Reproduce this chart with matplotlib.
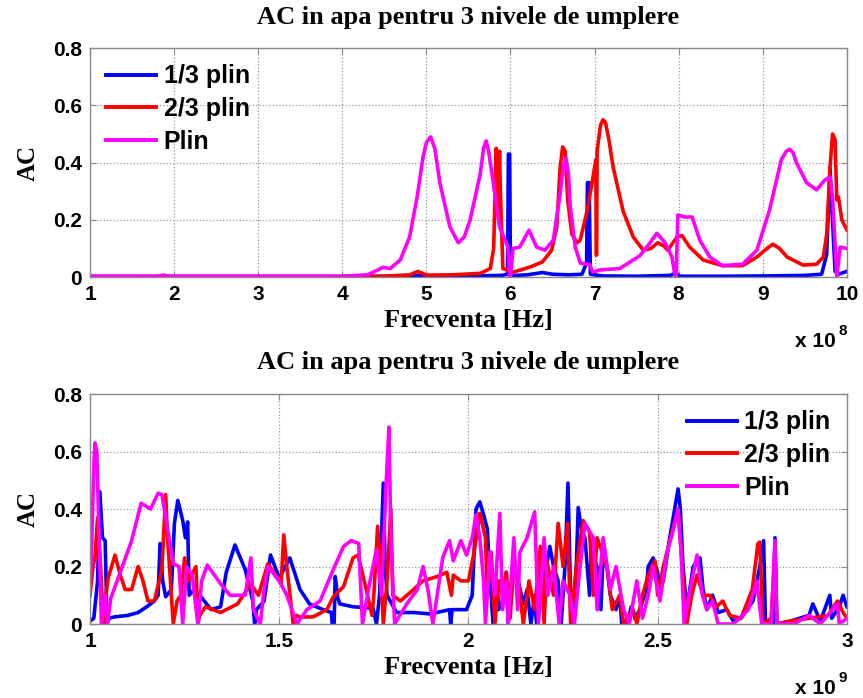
import matplotlib
matplotlib.use('Agg')
import matplotlib.pyplot as plt

# fonturi: Times bold pentru titluri/etichete, Arial bold pentru ticks/legenda
SERIF = ['Liberation Serif', 'DejaVu Serif']
SANS = ['Liberation Sans', 'DejaVu Sans']

labels = ['1/3 plin', '2/3 plin', 'Plin']
colors = ['#0000FF', '#FF0000', '#FF00FF']
title = 'AC in apa pentru 3 nivele de umplere'

# ---------------- grafic sus: 1e8 Hz ----------------
top_xticks = [1, 2, 3, 4, 5, 6, 7, 8, 9, 10]
yticks = [0, 0.2, 0.4, 0.6, 0.8]
ytick_labels = ['0', '0.2', '0.4', '0.6', '0.8']

top_f13 = [1, 2, 3, 4, 4.6, 4.85, 4.95, 5.05, 5.5, 5.9, 5.965, 5.975, 5.99, 6.0,
           6.2, 6.38, 6.5, 6.7, 6.85, 6.905, 6.915, 6.935, 6.95, 7.1, 7.5, 7.9,
           7.97, 8.0, 8.05, 8.5, 9.0, 9.5, 9.7, 9.76, 9.8, 9.82, 9.86, 9.9, 10]
top_ac13 = [0.002, 0.002, 0.002, 0.002, 0.003, 0.006, 0.005, 0.003, 0.004, 0.006,
            0.01, 0.43, 0.43, 0.005, 0.008, 0.016, 0.01, 0.008, 0.01, 0.05, 0.33,
            0.33, 0.01, 0.004, 0.003, 0.006, 0.015, 0.004, 0.003, 0.003, 0.004,
            0.006, 0.01, 0.08, 0.38, 0.25, 0.02, 0.01, 0.02]

top_f23 = [1, 1.8, 1.87, 1.95, 3, 4, 4.5, 4.8, 4.9, 5.0, 5.3, 5.64, 5.76, 5.8, 5.83,
           5.85, 5.87, 5.88, 5.91, 6.03, 6.23, 6.38, 6.49, 6.55, 6.59, 6.62, 6.65,
           6.68, 6.73, 6.79, 6.83, 6.91, 6.97, 7.015, 7.02, 7.025, 7.03, 7.07, 7.1,
           7.13, 7.17, 7.22, 7.34, 7.46, 7.58, 7.67, 7.75, 7.82, 7.87, 7.98, 8.04,
           8.13, 8.29, 8.52, 8.76, 8.93, 9.05, 9.12, 9.2, 9.29, 9.48, 9.64, 9.72,
           9.76, 9.8, 9.83, 9.86, 9.88, 9.9, 9.94, 10]
top_ac23 = [0.002, 0.002, 0.005, 0.002, 0.002, 0.002, 0.003, 0.008, 0.02, 0.007,
            0.008, 0.013, 0.03, 0.1, 0.45, 0.22, 0.44, 0.3, 0.03, 0.017, 0.035, 0.053,
            0.094, 0.175, 0.38, 0.455, 0.44, 0.27, 0.15, 0.12, 0.13, 0.23, 0.33, 0.41,
            0.077, 0.077, 0.44, 0.53, 0.55, 0.54, 0.48, 0.385, 0.23, 0.14, 0.094,
            0.1, 0.12, 0.11, 0.094, 0.14, 0.145, 0.105, 0.06, 0.04, 0.04, 0.07, 0.1,
            0.115, 0.1, 0.07, 0.042, 0.045, 0.07, 0.15, 0.385, 0.50, 0.48, 0.27, 0.28,
            0.2, 0.165]

top_fpl = [1, 1.8, 1.87, 1.95, 3, 4, 4.3, 4.41, 4.48, 4.57, 4.69, 4.8, 4.89, 4.96,
           5.0, 5.05, 5.1, 5.16, 5.28, 5.38, 5.45, 5.52, 5.64, 5.68, 5.71, 5.74,
           5.78, 5.87, 5.97, 5.99, 6.0, 6.03, 6.11, 6.22, 6.31, 6.41, 6.51, 6.59,
           6.63, 6.66, 6.69, 6.71, 6.77, 6.83, 6.91, 6.94, 6.98, 7.06, 7.3, 7.54,
           7.66, 7.74, 7.84, 7.92, 7.96, 7.97, 7.99, 8.07, 8.16, 8.25, 8.37, 8.52,
           8.76, 8.93, 9.08, 9.22, 9.28, 9.32, 9.36, 9.4, 9.52, 9.64, 9.74, 9.8,
           9.83, 9.88, 9.92, 10]
top_acpl = [0.003, 0.003, 0.007, 0.003, 0.003, 0.003, 0.008, 0.023, 0.034, 0.03,
            0.06, 0.14, 0.28, 0.42, 0.47, 0.49, 0.45, 0.33, 0.175, 0.12, 0.14, 0.2,
            0.36, 0.45, 0.476, 0.44, 0.36, 0.175, 0.105, 0.0, 0.0, 0.10, 0.105,
            0.164, 0.105, 0.094, 0.13, 0.29, 0.39, 0.415, 0.36, 0.25, 0.105, 0.049,
            0.045, 0.045, 0.017, 0.025, 0.03, 0.075, 0.12, 0.153, 0.12, 0.07, 0.0,
            0.0, 0.217, 0.21, 0.21, 0.13, 0.07, 0.04, 0.045, 0.094, 0.234, 0.41,
            0.44, 0.447, 0.435, 0.40, 0.33, 0.305, 0.34, 0.35, 0.28, 0.0, 0.105, 0.1]

# ---------------- grafic jos: 1e9 Hz ----------------
bot_xticks = [1, 1.5, 2, 2.5, 3]
bot_xtick_labels = ['1', '1.5', '2', '2.5', '3']

bot_f13 = [1.0, 1.01, 1.02, 1.026, 1.033, 1.04, 1.045, 1.05, 1.066, 1.1, 1.127, 1.15,
           1.17, 1.18, 1.185, 1.192, 1.2, 1.215, 1.223, 1.232, 1.245, 1.252, 1.258,
           1.262, 1.275, 1.29, 1.32, 1.345, 1.36, 1.383, 1.41, 1.43, 1.435, 1.44,
           1.46, 1.477, 1.5, 1.528, 1.555, 1.58, 1.616, 1.638, 1.64, 1.645, 1.648,
           1.655, 1.66, 1.695, 1.748, 1.757, 1.765, 1.775, 1.78, 1.785, 1.81, 1.855,
           1.9, 1.95, 1.953, 1.957, 1.995,
           2.01, 2.02, 2.03, 2.04, 2.05, 2.055, 2.06, 2.065, 2.075, 2.08, 2.09, 2.1,
           2.105, 2.115, 2.12, 2.13, 2.145, 2.155, 2.165, 2.175, 2.18, 2.19, 2.2,
           2.215, 2.225, 2.237, 2.245, 2.255, 2.263, 2.27, 2.276, 2.285, 2.29, 2.3,
           2.308, 2.32, 2.325, 2.34, 2.35, 2.355, 2.366, 2.375, 2.39, 2.4, 2.405,
           2.42, 2.43, 2.44, 2.453, 2.47, 2.475, 2.488, 2.5, 2.505, 2.515,
           2.532, 2.545, 2.554, 2.56, 2.567, 2.577, 2.585, 2.594, 2.612, 2.62, 2.63,
           2.645, 2.66, 2.683, 2.7, 2.72, 2.752, 2.77, 2.78, 2.785, 2.805, 2.81,
           2.815, 2.85, 2.9, 2.91, 2.93, 2.955, 2.96, 2.98, 2.99, 3.0]
bot_ac13 = [0.01, 0.02, 0.15, 0.46, 0.3, 0.29, 0.0, 0.02, 0.025, 0.03, 0.04, 0.06,
            0.08, 0.1, 0.28, 0.15, 0.095, 0.12, 0.35, 0.43, 0.36, 0.3, 0.355, 0.1,
            0.12, 0.1, 0.05, 0.06, 0.18, 0.275, 0.19, 0.08, 0.0, 0.05, 0.08, 0.24,
            0.16, 0.23, 0.12, 0.07, 0.05, 0.04, 0.0, 0.0, 0.165, 0.09, 0.07, 0.06,
            0.055, 0.0, 0.1, 0.49, 0.2, 0.1, 0.04, 0.04, 0.035, 0.05, 0.0, 0.05, 0.05,
            0.1, 0.4, 0.425, 0.38, 0.33, 0.2, 0.1, 0.0, 0.15, 0.05, 0.08, 0.18,
            0.0, 0.15, 0.21, 0.16, 0.07, 0.12, 0.0, 0.1, 0.0, 0.2, 0.15,
            0.27, 0.2, 0.15, 0.0, 0.2, 0.49, 0.1, 0.0, 0.2, 0.405, 0.32,
            0.3, 0.1, 0.25, 0.2, 0.05, 0.22, 0.2, 0.1, 0.05, 0.1, 0.0,
            0.0, 0.06, 0.02, 0.05, 0.12, 0.2, 0.23, 0.18, 0.12, 0.15,
            0.3, 0.4, 0.47, 0.4, 0.2, 0.05, 0.12, 0.2, 0.23, 0.12, 0.05,
            0.1, 0.04, 0.05, 0.01, 0.02, 0.08, 0.2, 0.29, 0.0, 0.0, 0.3,
            0.0, 0.01, 0.03, 0.07, 0.01, 0.1, 0.02, 0.06, 0.1, 0.06]

bot_f23 = [1.0, 1.008, 1.013, 1.02, 1.028, 1.035, 1.042, 1.048, 1.066, 1.08, 1.093,
           1.11, 1.127, 1.14, 1.153, 1.17, 1.19, 1.2, 1.205, 1.215, 1.22, 1.23, 1.24,
           1.25, 1.26, 1.28, 1.285, 1.29, 1.305, 1.345, 1.39, 1.425, 1.445, 1.47,
           1.505, 1.512, 1.52, 1.537, 1.545, 1.555, 1.59, 1.626, 1.643, 1.67, 1.695,
           1.708, 1.73, 1.745, 1.75, 1.76, 1.768, 1.775, 1.785, 1.795, 1.8, 1.82,
           1.855, 1.88, 1.917, 1.943, 1.955, 1.96, 1.98,
           2.0, 2.015, 2.03, 2.045, 2.05, 2.06, 2.07, 2.08, 2.09, 2.1, 2.11, 2.12,
           2.135, 2.145, 2.16, 2.175, 2.19, 2.2, 2.207, 2.225, 2.237, 2.25, 2.262,
           2.27, 2.285, 2.303, 2.32, 2.33, 2.34, 2.366, 2.38, 2.4, 2.41, 2.435,
           2.445, 2.46, 2.475, 2.493, 2.5, 2.515,
           2.54, 2.554, 2.565, 2.577, 2.59, 2.604, 2.62, 2.638,
           2.655, 2.672, 2.69, 2.72, 2.75, 2.765, 2.77, 2.778, 2.8, 2.81, 2.815, 2.85,
           2.9, 2.95, 2.975, 2.99, 3.0]
bot_ac23 = [0.1, 0.2, 0.23, 0.37, 0.2, 0.0, 0.1, 0.16, 0.24, 0.17, 0.12, 0.12, 0.2,
            0.15, 0.08, 0.08, 0.19, 0.45, 0.3, 0.1, 0.0, 0.08, 0.1, 0.23, 0.15, 0.2,
            0.0, 0.03, 0.06, 0.04, 0.07, 0.14, 0.1, 0.21, 0.14, 0.31, 0.2, 0.0, 0.03,
            0.024, 0.025, 0.05, 0.095, 0.13, 0.23, 0.24, 0.12, 0.03, 0.1, 0.34, 0.2,
            0.0, 0.15, 0.4, 0.1, 0.08, 0.12, 0.15, 0.165, 0.18, 0.1, 0.17, 0.15,
            0.15, 0.25, 0.385, 0.3, 0.1, 0.25, 0.0, 0.15, 0.1, 0.18, 0.02, 0.2,
            0.12, 0.0, 0.15, 0.05, 0.27, 0.0, 0.22, 0.1, 0.35, 0.2, 0.35,
            0.0, 0.2, 0.36, 0.32, 0.1, 0.3, 0.2, 0.05, 0.1, 0.0, 0.05,
            0.0, 0.1, 0.17, 0.22, 0.1, 0.2,
            0.33, 0.4, 0.2, 0.0, 0.1, 0.17, 0.1, 0.1,
            0.06, 0.08, 0.03, 0.02, 0.12, 0.28, 0.285, 0.0, 0.02, 0.25, 0.0, 0.01,
            0.02, 0.03, 0.08, 0.04, 0.02]

bot_fpl = [1.0, 1.005, 1.01, 1.013, 1.018, 1.024, 1.03, 1.04, 1.046, 1.055, 1.08,
           1.11, 1.135, 1.16, 1.18, 1.19, 1.205, 1.22, 1.235, 1.245, 1.255, 1.27,
           1.285, 1.295, 1.31, 1.345, 1.37, 1.41, 1.425, 1.432, 1.45, 1.458, 1.47,
           1.5, 1.52, 1.547, 1.573, 1.608, 1.643, 1.67, 1.69, 1.71, 1.72, 1.74,
           1.757, 1.77, 1.783, 1.79, 1.795, 1.805, 1.837, 1.865, 1.88, 1.893, 1.906,
           1.932, 1.95, 1.96, 1.98, 1.995,
           2.01, 2.02, 2.03, 2.04, 2.045, 2.057, 2.07, 2.083, 2.09, 2.1, 2.105,
           2.12, 2.13, 2.136, 2.155, 2.175, 2.185, 2.2, 2.21, 2.225, 2.24, 2.25,
           2.268, 2.28, 2.295, 2.308, 2.33, 2.34, 2.356, 2.375, 2.39, 2.41, 2.425,
           2.445, 2.46, 2.475, 2.488, 2.506, 2.525,
           2.54, 2.554, 2.562, 2.57, 2.59, 2.604, 2.618, 2.63,
           2.645, 2.66, 2.7, 2.74, 2.762, 2.775, 2.8, 2.81, 2.815, 2.86, 2.9, 2.93,
           2.975, 2.98, 3.0]
bot_acpl = [0.11, 0.3, 0.55, 0.63, 0.6, 0.3, 0.0, 0.1, 0.0, 0.09, 0.18, 0.29, 0.42,
            0.4, 0.455, 0.45, 0.33, 0.21, 0.2, 0.0, 0.2, 0.17, 0.0, 0.15, 0.205, 0.14,
            0.1, 0.1, 0.23, 0.05, 0.0, 0.1, 0.2, 0.15, 0.1, 0.0, 0.05, 0.08, 0.19,
            0.27, 0.29, 0.28, 0.0, 0.15, 0.26, 0.1, 0.5, 0.685, 0.3, 0.0, 0.07, 0.12,
            0.2, 0.12, 0.0, 0.23, 0.29, 0.22, 0.29, 0.24,
            0.3, 0.38, 0.3, 0.15, 0.0, 0.25, 0.1, 0.385, 0.05, 0.15, 0.0,
            0.3, 0.05, 0.25, 0.3, 0.39, 0.0, 0.3, 0.1, 0.2, 0.0, 0.15,
            0.1, 0.0, 0.2, 0.35, 0.3, 0.05, 0.3, 0.12, 0.2, 0.05, 0.0,
            0.15, 0.02, 0.1, 0.2, 0.08, 0.25,
            0.32, 0.4, 0.25, 0.0, 0.15, 0.24, 0.1, 0.05,
            0.08, 0.0, 0.0, 0.05, 0.15, 0.0, 0.0, 0.29, 0.0, 0.0, 0.03, 0.0,
            0.07, 0.0, 0.02]


def style_axes(ax, xlim, xticks, xtick_labels, exponent):
    ax.set_xlim(xlim)
    ax.set_ylim(0, 0.8)
    ax.set_xticks(xticks)
    ax.set_xticklabels(xtick_labels)
    ax.set_yticks(yticks)
    ax.set_yticklabels(ytick_labels)
    ax.grid(True, linestyle=':', color='#9a9a9a', linewidth=0.9)
    ax.set_axisbelow(True)
    for sp in ax.spines.values():
        sp.set_color('#8a8a8a')
        sp.set_linewidth(1.0)
    ax.tick_params(direction='in', top=True, right=True, length=4,
                   color='#8a8a8a', width=0.8)
    ax.tick_params(axis='x', pad=6)
    ax.tick_params(axis='y', pad=6)
    for t in ax.get_xticklabels() + ax.get_yticklabels():
        t.set_family(SANS)
        t.set_fontweight('bold')
        t.set_fontsize(15)
    ax.set_xlabel('Frecventa [Hz]', family=SERIF, fontweight='bold', fontsize=19)
    ax.xaxis.label.set_va('center')
    ax.xaxis.set_label_coords(0.5, -0.19)
    ax.set_ylabel('AC', family=SERIF, fontweight='bold', fontsize=18)
    ax.yaxis.label.set_va('center')
    ax.yaxis.set_label_coords(-0.082, 0.5)
    ax.text(0.5, 1.135, title, transform=ax.transAxes, ha='center', va='center',
            family=SERIF, fontweight='bold', fontsize=19)
    ax.text(0.985, -0.28, 'x 10', transform=ax.transAxes, ha='right', va='center',
            family=SANS, fontweight='bold', fontsize=15)
    ax.text(0.989, -0.235, exponent, transform=ax.transAxes, ha='left', va='center',
            family=SANS, fontweight='bold', fontsize=11)


fig = plt.figure(figsize=(8.63, 6.98), dpi=100)
ax1 = fig.add_axes([0.1043, 0.603, 0.877, 0.328])
ax2 = fig.add_axes([0.1043, 0.106, 0.877, 0.3295])

for f, ac, lab, c in zip([top_f13, top_f23, top_fpl], [top_ac13, top_ac23, top_acpl],
                         labels, colors):
    ax1.plot(f, ac, color=c, linewidth=2.6, label=lab, solid_joinstyle='round')
style_axes(ax1, (1, 10), top_xticks, [str(v) for v in top_xticks], '8')
leg1 = ax1.legend(loc='upper left', frameon=False, handlelength=2.0,
                  handletextpad=0.3, labelspacing=0.35, borderaxespad=0.25,
                  prop={'family': SANS, 'weight': 'bold', 'size': 18})

for f, ac, lab, c in zip([bot_f13, bot_f23, bot_fpl], [bot_ac13, bot_ac23, bot_acpl],
                         labels, colors):
    ax2.plot(f, ac, color=c, linewidth=2.6, label=lab, solid_joinstyle='round')
style_axes(ax2, (1, 3), bot_xticks, bot_xtick_labels, '9')
leg2 = ax2.legend(loc='upper right', frameon=False, handlelength=2.0,
                  handletextpad=0.3, labelspacing=0.35, borderaxespad=0.25,
                  prop={'family': SANS, 'weight': 'bold', 'size': 18})

for leg in (leg1, leg2):
    for h in leg.get_lines():
        h.set_linewidth(2.8)

fig.savefig('out.png', dpi=100)
